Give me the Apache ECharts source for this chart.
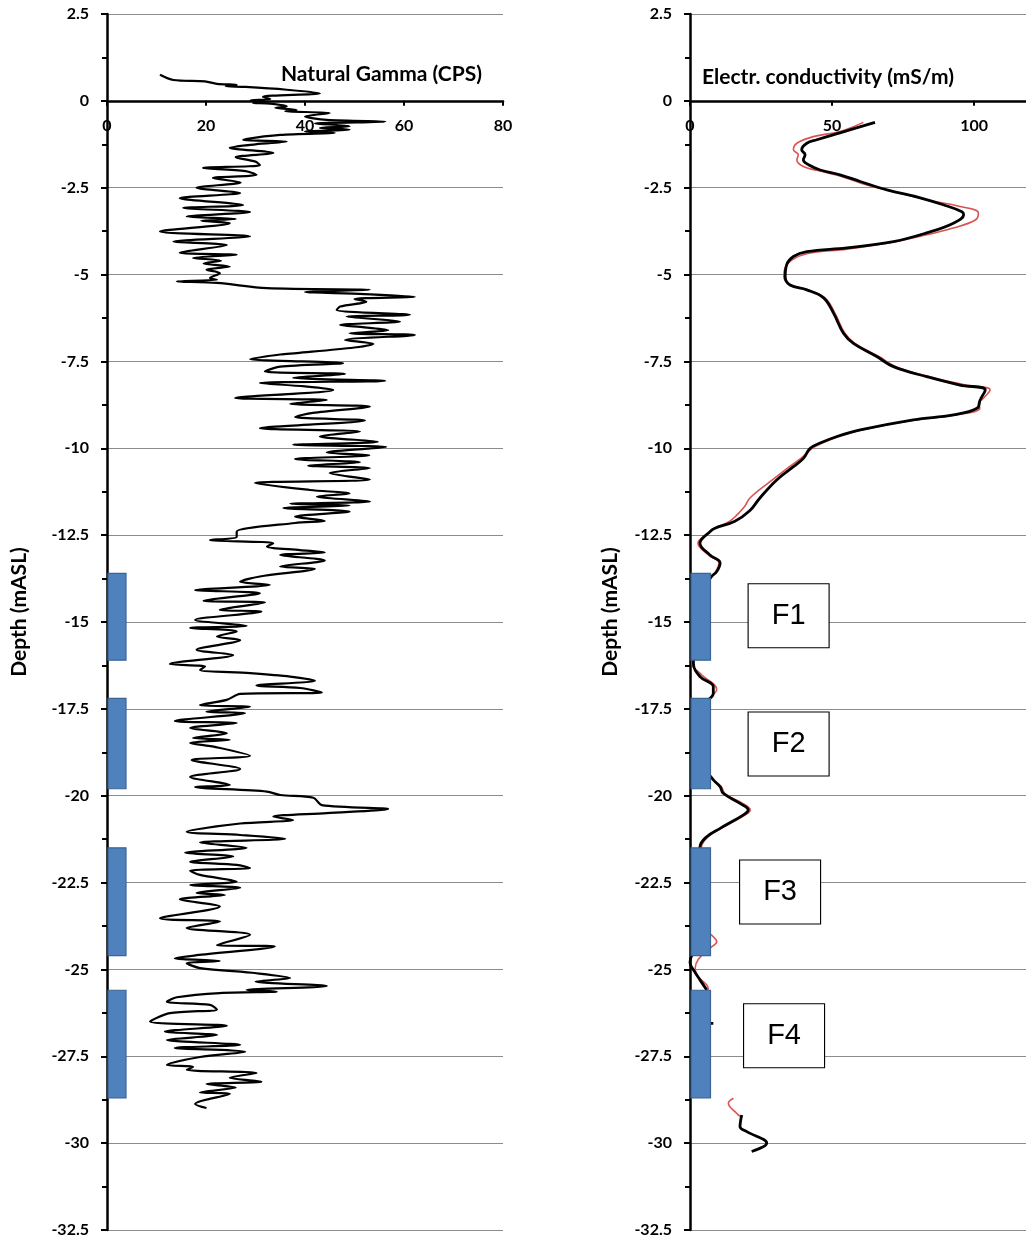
<!DOCTYPE html>
<html>
<head>
<meta charset="utf-8">
<script src="https://cdn.jsdelivr.net/npm/echarts@6/dist/echarts.min.js"></script>
<style>
  html, body { margin: 0; padding: 0; background: #fff; }
  #chart { width: 1026px; height: 1245px; }
</style>
</head>
<body>
<div id="chart"></div>
<script>
// natural gamma log (CPS) against depth (mASL)
var gammaCps = [
  10.7, 13.4, 19.8, 22.2, 26.2, 24, 28, 36.3, 43, 31.5, 33, 29, 32, 29.5, 33, 36.3, 34, 38.3, 36, 45,
  40, 44.4, 56.2, 42, 49, 43, 49, 40, 46, 35, 27.5, 36.3, 30, 24.8, 33.6, 26, 30, 30.9, 19.4, 28,
  30.2, 21.4, 27, 18.1, 26.9, 14.7, 27.5, 15.4, 28.9, 16.1, 26, 19, 24.8, 10.7, 28.9, 13.4, 24.2, 14.7, 26.2, 17.4,
  23, 19.5, 24.8, 20.1, 22.8, 20.8, 22.2, 14.1, 22.2, 32.3, 53.1, 40, 52, 62.2, 50, 52.4, 47.1, 46.4, 61.2, 48.4,
  59.2, 47.1, 52, 56.8, 49, 62.2, 48.1, 53.8, 50, 38.3, 35, 28.9, 47.7, 35, 31.9, 48.1, 37.6, 56.2, 30.9, 40,
  45.7, 25.9, 44.4, 37, 53.1, 41.6, 38, 52.1, 30.9, 51.1, 43, 54.7, 37.6, 56.4, 44.4, 53, 38, 51.1, 40.6, 53.1,
  45, 53.1, 29.9, 41, 49, 42.4, 53.1, 37, 49, 35.6, 49, 38, 44, 38, 26.2, 26.2, 20.8, 33.6, 32.3, 39,
  44, 35, 44, 35, 42, 30.9, 26.9, 32.9, 17.8, 30.9, 19.5, 31.9, 22.8, 31.2, 17.8, 28.2, 16.8, 26.2, 22.2, 26.9,
  18.1, 25.5, 12.7, 19.8, 18.8, 28.9, 37, 42, 30.2, 39, 43.4, 26.9, 24.2, 18.8, 28.9, 20.1, 27.9, 13.7, 26.2, 16.8,
  24.2, 17.4, 24.8, 16.8, 22, 28.9, 17.1, 26.9, 16.8, 24.8, 17.8, 32.3, 35, 41.7, 43.4, 56.8, 44.4, 33.6, 37.6, 26.9,
  16.1, 26.9, 36, 18.8, 28.2, 15.8, 25.5, 16.8, 26.2, 28.9, 16.8, 18.8, 26.2, 16.8, 26.9, 18.1, 23.8, 14.7, 22.8, 10.7,
  22.8, 16.1, 28.9, 22.2, 33.9, 18.1, 13.7, 22.8, 16.1, 18.8, 30.2, 37, 30, 44.4, 28.2, 34.3, 22.8, 14.1, 12.1, 20.8,
  22.2, 12.7, 8.7, 24.2, 11.7, 22.2, 12.1, 26.9, 13.7, 27.9, 18.8, 12.1, 17.4, 16.1, 30.2, 24.8, 31.2, 20.1, 26, 18.8,
  24.8, 17.8, 20.1
];
var gammaDepth = [
  0.75, 0.6, 0.56, 0.49, 0.46, 0.42, 0.4, 0.32, 0.22, 0.12, 0.05, 0.02, -0.02, -0.06, -0.08, -0.16, -0.2, -0.26, -0.3, -0.35,
  -0.45, -0.55, -0.6, -0.65, -0.73, -0.78, -0.83, -0.88, -0.92, -0.98, -1.12, -1.17, -1.25, -1.35, -1.5, -1.62, -1.75, -1.85, -1.93, -2.02,
  -2.13, -2.22, -2.35, -2.5, -2.65, -2.8, -3.0, -3.08, -3.2, -3.33, -3.4, -3.45, -3.52, -3.76, -3.9, -4.05, -4.15, -4.37, -4.43, -4.52,
  -4.6, -4.68, -4.77, -4.86, -4.96, -5.1, -5.15, -5.2, -5.24, -5.39, -5.44, -5.5, -5.56, -5.64, -5.7, -5.78, -5.92, -6.02, -6.16, -6.21,
  -6.35, -6.45, -6.52, -6.6, -6.69, -6.74, -6.88, -7.0, -7.1, -7.26, -7.3, -7.43, -7.55, -7.65, -7.79, -7.86, -7.97, -8.06, -8.12, -8.22,
  -8.32, -8.55, -8.61, -8.72, -8.8, -8.98, -9.1, -9.2, -9.42, -9.52, -9.66, -9.81, -9.9, -9.96, -10.12, -10.2, -10.31, -10.4, -10.5, -10.57,
  -10.71, -10.9, -11.0, -11.2, -11.3, -11.39, -11.53, -11.6, -11.65, -11.72, -11.82, -11.97, -12.09, -12.15, -12.4, -12.55, -12.64, -12.73, -12.83, -12.93,
  -13.0, -13.07, -13.23, -13.4, -13.47, -13.69, -13.84, -13.93, -14.08, -14.17, -14.39, -14.44, -14.65, -14.7, -14.94, -15.11, -15.17, -15.27, -15.42, -15.52,
  -15.8, -15.95, -16.21, -16.28, -16.38, -16.47, -16.57, -16.69, -16.83, -16.9, -17.03, -17.07, -17.24, -17.39, -17.44, -17.58, -17.62, -17.85, -17.91, -18.05,
  -18.2, -18.34, -18.39, -18.48, -18.6, -18.85, -18.97, -19.23, -19.46, -19.69, -19.75, -19.88, -19.98, -20.06, -20.27, -20.38, -20.5, -20.6, -20.7, -20.8,
  -21.04, -21.13, -21.24, -21.35, -21.5, -21.64, -21.75, -21.9, -21.99, -22.08, -22.16, -22.28, -22.47, -22.57, -22.65, -22.8, -22.86, -22.98, -23.19, -23.53,
  -23.62, -23.81, -24.0, -24.3, -24.34, -24.59, -24.68, -24.76, -24.82, -24.96, -25.11, -25.25, -25.35, -25.48, -25.59, -25.64, -25.68, -25.8, -25.93, -26.02,
  -26.15, -26.26, -26.5, -26.62, -26.79, -26.89, -27.03, -27.17, -27.26, -27.37, -27.52, -27.75, -27.8, -27.89, -27.98, -28.12, -28.23, -28.3, -28.4, -28.54,
  -28.58, -28.87, -28.99
];

// electrical conductivity (mS/m), black and red logs; null = gap in the log
var condBlack = [
  65.1, 52.8, 44.6, 41.1, 39.3, 40.5, 39.9, 41.7, 45.8, 52.8, 59.9, 69.3, 81, 89.1, 95.7, 96.3, 92.7, 83.3, 71.6, 55.2,
  41.1, 36.4, 34, 33.5, 35.2, 41.1, 47, 50.5, 54, 57.5, 65.7, 71.6, 83.3, 95, 103.9, 102.1, 101, 92.7, 78.6, 59.9,
  51.7, 45.8, 42.3, 39.9, 36.4, 30.5, 24.6, 21, 15.8, 8.8, 7, 3.5, 7, 10.6, 9.4, 7.6, 4, 3, 1.2, 3.5,
  8.2, 8.2, 5, 4, 8.2, 10.6, 11.7, 17.6, 20.5, 18.8, 10.6, 5.9, 3.5, 3, 4, 0, 1.5, 3.5, 5.9, null,
  5, 8.2, null, 18.2, 17.6, 20, 27, 21.7
];
var condBlackDepth = [
  -0.62, -0.92, -1.12, -1.22, -1.41, -1.55, -1.7, -1.84, -1.99, -2.13, -2.32, -2.56, -2.79, -2.99, -3.19, -3.28, -3.52, -3.8, -4.05, -4.23,
  -4.34, -4.48, -4.72, -5.06, -5.3, -5.44, -5.67, -6.11, -6.69, -6.98, -7.36, -7.65, -7.94, -8.18, -8.32, -8.61, -8.85, -9.04, -9.18, -9.47,
  -9.66, -9.85, -10.0, -10.29, -10.53, -10.91, -11.43, -11.8, -12.1, -12.3, -12.4, -12.73, -13.07, -13.3, -13.55, -13.69, -14.2, -15.5, -16.19, -16.57,
  -16.86, -17.05, -17.4, -19.0, -19.54, -19.74, -19.93, -20.22, -20.41, -20.55, -20.94, -21.18, -21.47, -22.5, -24.0, -24.8, -25.05, -25.3, -25.59, null,
  -26.55, -26.55, null, -29.19, -29.53, -29.67, -30.0, -30.24
];
var condRed = [
  61, 52.8, 43.4, 37.6, 36.4, 38.1, 37.6, 39.9, 44.6, 52.8, 62.2, 71.6, 83.3, 95, 101.5, 100.4, 92.6, 81, 69.3, 55.2,
  41.1, 35.8, 33.5, 33, 35.5, 41.5, 47.5, 51, 54.5, 58, 66.5, 72.5, 84.5, 97, 105.6, 103, 101.5, 102, 93.5, 79.5,
  60.5, 52.5, 46.5, 43, 39, 35, 29, 21.1, 19, 14, 8.5, 6.5, 2.8, 6.5, 10.2, 9, 7.4, 4, 3, 0.8,
  3.8, 9.4, 8, 5, 4, 7.5, 11, 12.4, 18.5, 21.2, 19.5, 11, 6.4, 4, 3, 5, 8.2, 9.4, 7, 3,
  1.8, 2.9, 5.9, 6.5, null, 15.3, 13.5, 16.4, 18
];
var condRedDepth = [
  -0.62, -0.88, -1.03, -1.22, -1.41, -1.55, -1.7, -1.89, -2.0, -2.16, -2.42, -2.61, -2.85, -3.04, -3.23, -3.43, -3.66, -3.9, -4.1, -4.27,
  -4.4, -4.58, -4.8, -5.06, -5.3, -5.44, -5.67, -6.11, -6.69, -6.98, -7.36, -7.65, -7.94, -8.18, -8.32, -8.58, -8.7, -8.85, -9.04, -9.18,
  -9.47, -9.66, -9.85, -10.0, -10.29, -10.53, -10.91, -11.43, -11.7, -12.1, -12.3, -12.45, -12.73, -13.07, -13.3, -13.55, -13.7, -14.2, -15.5, -16.2,
  -16.5, -16.95, -17.1, -17.4, -19.0, -19.5, -19.74, -19.95, -20.22, -20.41, -20.55, -20.94, -21.18, -21.47, -22.5, -23.8, -24.06, -24.2, -24.39, -24.7,
  -24.97, -25.21, -25.45, -25.59, null, -28.71, -28.85, -29.14, -29.25
];

// sampled intervals F1..F4 (depth of top and bottom)
var zoneNames = ['F1', 'F2', 'F3', 'F4'];
var zoneTop = [-13.6, -17.2, -21.5, -25.6];
var zoneBottom = [-16.1, -19.8, -24.6, -28.7];
// where each F label sits on the conductivity panel
var zoneLabelX = [34.7, 34.7, 31.7, 33.1];
var zoneLabelDepth = [-14.82, -18.51, -22.77, -26.91];

function pairs(xs, ys) {
  return xs.map(function (x, i) {
    return (x === null || ys[i] === null) ? ['-', '-'] : [x, ys[i]];
  });
}

var font = 'Lato, "Open Sans", sans-serif';
var axisColor = '#000';
var gridTop = 14, gridHeight = 1216;
// x axes sit on the depth = 0 line: 2.5 of 35 m below the top
var zeroOffset = -(gridHeight - gridHeight * 2.5 / 35);

function yAxisFor(idx) {
  return {
    gridIndex: idx,
    type: 'value',
    min: -32.5,
    max: 2.5,
    interval: 2.5,
    name: 'Depth (mASL)',
    nameLocation: 'middle',
    nameRotate: 90,
    nameGap: idx === 0 ? 77 : 69,
    nameTextStyle: {
      fontFamily: font, fontWeight: 'bold', fontSize: 21, color: '#000',
      padding: [0, 0, 0, 20]
    },
    axisLine: { show: true, onZero: false, lineStyle: { color: axisColor, width: 2.5 } },
    axisTick: { show: true, length: 6, lineStyle: { color: axisColor, width: 2 } },
    minorTick: { show: true, splitNumber: 2, length: 5, lineStyle: { color: axisColor, width: 2 } },
    axisLabel: {
      fontFamily: font, fontWeight: 'bold', fontSize: 16, color: '#000', margin: 18,
      showMinLabel: true, showMaxLabel: true
    },
    splitLine: { show: true, lineStyle: { color: '#8c8c8c', width: 1.2 } }
  };
}

function zoneSeries(idx) {
  return {
    type: 'custom',
    xAxisIndex: idx,
    yAxisIndex: idx,
    z: 5,
    data: zoneTop.map(function (t, i) { return [t, zoneBottom[i]]; }),
    encode: { y: [0, 1] },
    renderItem: function (params, api) {
      var p1 = api.coord([0, api.value(0)]);
      var p2 = api.coord([0, api.value(1)]);
      return {
        type: 'rect',
        shape: { x: p1[0] + 1, y: p1[1], width: idx === 0 ? 18 : 19.5, height: p2[1] - p1[1] },
        style: { fill: '#4F81BD', stroke: '#3A6593', lineWidth: 1.2 }
      };
    }
  };
}

var chart = echarts.init(document.getElementById('chart'), null, { renderer: 'canvas' });

chart.setOption({
  animation: false,
  backgroundColor: '#fff',
  grid: [
    { left: 107, top: gridTop, width: 396, height: gridHeight, containLabel: false, outerBoundsMode: 'none' },
    { left: 690, top: gridTop, width: 341, height: gridHeight, containLabel: false, outerBoundsMode: 'none' }
  ],
  xAxis: [
    {
      gridIndex: 0,
      type: 'value',
      position: 'bottom',
      offset: zeroOffset,
      min: 0,
      max: 80,
      interval: 20,
      name: 'Natural Gamma (CPS)',
      nameLocation: 'end',
      nameGap: -21,
      nameTextStyle: {
        fontFamily: font, fontWeight: 'bold', fontSize: 21, color: '#000',
        align: 'right', verticalAlign: 'bottom', padding: [0, 0, 16, 0]
      },
      axisLine: { show: true, onZero: false, lineStyle: { color: axisColor, width: 2.5 } },
      axisTick: { show: true, length: 5, lineStyle: { color: axisColor, width: 2 } },
      axisLabel: { show: true, fontFamily: font, fontWeight: 'bold', fontSize: 16, color: '#000', margin: 17 },
      splitLine: { show: false }
    },
    {
      gridIndex: 1,
      type: 'value',
      position: 'bottom',
      offset: zeroOffset,
      min: 0,
      max: 120,
      interval: 50,
      name: 'Electr. conductivity (mS/m)',
      nameLocation: 'start',
      nameGap: -12,
      nameTextStyle: {
        fontFamily: font, fontWeight: 'bold', fontSize: 21, color: '#000',
        align: 'left', verticalAlign: 'bottom', padding: [0, 0, 13, 0]
      },
      axisLine: { show: true, onZero: false, lineStyle: { color: axisColor, width: 2.5 } },
      axisTick: { show: true, length: 5, lineStyle: { color: axisColor, width: 2 } },
      axisLabel: {
        show: true, fontFamily: font, fontWeight: 'bold', fontSize: 16, color: '#000', margin: 17,
        showMaxLabel: false
      },
      splitLine: { show: false }
    }
  ],
  yAxis: [yAxisFor(0), yAxisFor(1)],
  series: [
    {
      name: 'Natural Gamma',
      type: 'line',
      xAxisIndex: 0,
      yAxisIndex: 0,
      data: pairs(gammaCps, gammaDepth),
      symbol: 'none',
      smooth: 0.3,
      z: 3,
      lineStyle: { color: '#000', width: 2.2 }
    },
    zoneSeries(0),
    {
      name: 'Conductivity (red)',
      type: 'line',
      xAxisIndex: 1,
      yAxisIndex: 1,
      data: pairs(condRed, condRedDepth),
      symbol: 'none',
      smooth: 0.4,
      connectNulls: false,
      z: 3,
      lineStyle: { color: '#D9534F', width: 1.6 }
    },
    {
      name: 'Conductivity (black)',
      type: 'line',
      xAxisIndex: 1,
      yAxisIndex: 1,
      data: pairs(condBlack, condBlackDepth),
      symbol: 'none',
      smooth: 0.4,
      connectNulls: false,
      z: 4,
      lineStyle: { color: '#000', width: 2.8 }
    },
    zoneSeries(1),
    {
      name: 'Zone labels',
      type: 'scatter',
      xAxisIndex: 1,
      yAxisIndex: 1,
      z: 6,
      symbol: 'rect',
      symbolSize: [81, 64],
      itemStyle: { color: '#fff', borderColor: '#000', borderWidth: 1, opacity: 1 },
      label: {
        show: true,
        position: 'inside',
        formatter: '{b}',
        fontFamily: 'Arial, "Liberation Sans", sans-serif',
        fontSize: 29,
        color: '#000'
      },
      data: zoneNames.map(function (n, i) {
        return { name: n, value: [zoneLabelX[i], zoneLabelDepth[i]] };
      })
    }
  ]
});
</script>
</body>
</html>
